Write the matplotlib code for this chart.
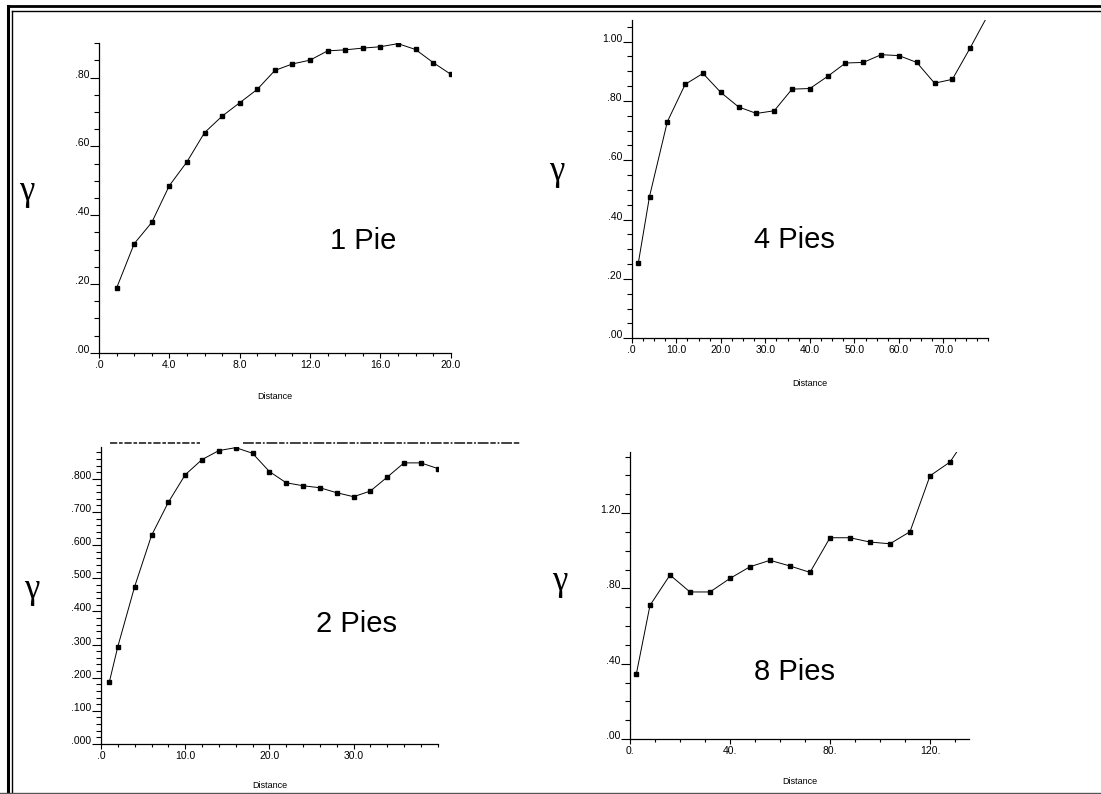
"""
Variogram panels: gamma vs distance for 1, 2, 4 and 8 pies
"""
import numpy as np
import matplotlib
matplotlib.use('Agg')
import matplotlib.pyplot as plt
from matplotlib.lines import Line2D
from matplotlib.ticker import MultipleLocator, FixedLocator

matplotlib.rcParams['font.family'] = 'Liberation Sans'
matplotlib.rcParams['font.size'] = 7
matplotlib.rcParams['axes.linewidth'] = 0.9

W, H = 1101, 794

# ---- data ----
dist_1 = list(range(1, 21))
gamma_1 = [0.188, 0.317, 0.379, 0.486, 0.555, 0.640, 0.688, 0.727, 0.766, 0.821,
           0.840, 0.851, 0.878, 0.881, 0.886, 0.890, 0.899, 0.882, 0.844, 0.810]

dist_4 = [1.5, 4, 8, 12, 16, 20, 24, 28, 32, 36, 40, 44, 48, 52, 56, 60, 64, 68, 72, 76, 80]
gamma_4 = [0.255, 0.478, 0.730, 0.856, 0.893, 0.829, 0.780, 0.758, 0.767, 0.840,
           0.842, 0.883, 0.928, 0.930, 0.956, 0.953, 0.930, 0.860, 0.873, 0.979, 1.09]

dist_2 = [1, 2, 4, 6, 8, 10, 12, 14, 16, 18, 20, 22, 24, 26, 28, 30, 32, 34, 36, 38, 40]
gamma_2 = [0.188, 0.294, 0.475, 0.629, 0.729, 0.812, 0.858, 0.885, 0.894, 0.877,
           0.822, 0.788, 0.779, 0.773, 0.758, 0.746, 0.763, 0.805, 0.848, 0.848, 0.831]

dist_8 = [2.5, 8, 16, 24, 32, 40, 48, 56, 64, 72, 80, 88, 96, 104, 112, 120, 128, 136]
gamma_8 = [0.343, 0.710, 0.871, 0.781, 0.781, 0.853, 0.915, 0.949, 0.919, 0.885,
           1.069, 1.069, 1.046, 1.037, 1.101, 1.398, 1.471, 1.63]

yticks_1 = [0.0, 0.2, 0.4, 0.6, 0.8]
ylabels_1 = ['.00', '.20', '.40', '.60', '.80']
xticks_1 = [0, 4, 8, 12, 16, 20]
xlabels_1 = ['.0', '4.0', '8.0', '12.0', '16.0', '20.0']

yticks_4 = [0.0, 0.2, 0.4, 0.6, 0.8, 1.0]
ylabels_4 = ['.00', '.20', '.40', '.60', '.80', '1.00']
xticks_4 = [0, 10, 20, 30, 40, 50, 60, 70]
xlabels_4 = ['.0', '10.0', '20.0', '30.0', '40.0', '50.0', '60.0', '70.0']

yticks_2 = [0.0, 0.1, 0.2, 0.3, 0.4, 0.5, 0.6, 0.7, 0.8]
ylabels_2 = ['.000', '.100', '.200', '.300', '.400', '.500', '.600', '.700', '.800']
xticks_2 = [0, 10, 20, 30]
xlabels_2 = ['.0', '10.0', '20.0', '30.0']

yticks_8 = [0.0, 0.4, 0.8, 1.2]
ylabels_8 = ['.00', '.40', '.80', '1.20']
xticks_8 = [0, 40, 80, 120]
xlabels_8 = ['0.', '40.', '80.', '120.']


def fx(px):
    return px / W


def fy(py):
    return 1 - py / H


def make_panel(fig, box, x, y, xlim, ylim, xt, xl, xminor, yt, yl, yminor,
               name, name_xy, gamma_xy, dist_xy):
    l, t, r, b = box
    ax = fig.add_axes([fx(l), fy(b), (r - l) / W, (b - t) / H])
    ax.plot(x, y, color='black', lw=0.7, marker='s', ms=2.6)
    ax.set_xlim(xlim)
    ax.set_ylim(ylim)
    ax.spines['top'].set_visible(False)
    ax.spines['right'].set_visible(False)
    ax.patch.set_alpha(0)

    ax.xaxis.set_major_locator(FixedLocator(xt))
    ax.set_xticklabels(xl)
    ax.xaxis.set_minor_locator(MultipleLocator(xminor))
    ax.yaxis.set_major_locator(FixedLocator(yt))
    ax.set_yticklabels(yl)
    ax.yaxis.set_minor_locator(MultipleLocator(yminor))

    ax.tick_params(axis='y', which='major', direction='out', length=6.5, width=0.8, pad=0.5, labelsize=7.5)
    ax.tick_params(axis='y', which='minor', direction='out', length=3.5, width=0.8)
    ax.tick_params(axis='x', which='major', direction='out', length=3.5, width=0.8, pad=1.5, labelsize=7.5)
    ax.tick_params(axis='x', which='minor', direction='out', length=2.5, width=0.8)
    for lbl in ax.get_yticklabels():
        lbl.set_va('baseline')

    fig.text(fx(name_xy[0]), fy(name_xy[1]), name, fontsize=21, ha='center', va='center')
    fig.text(fx(gamma_xy[0]), fy(gamma_xy[1]), 'γ', fontsize=25, family='Liberation Serif',
             ha='center', va='center')
    fig.text(fx(dist_xy[0]), fy(dist_xy[1]), 'Distance', fontsize=6.5, ha='center', va='center')
    return ax


fig = plt.figure(figsize=(W / 100, H / 100), dpi=100)

make_panel(fig, (99, 43.3, 450.7, 352.7), dist_1, gamma_1, (0, 20), (0, 0.9),
           xticks_1, xlabels_1, 1, yticks_1, ylabels_1, 0.05,
           '1 Pie', (363, 241), (27, 192), (275, 396))
make_panel(fig, (631.7, 20, 988, 338.3), dist_4, gamma_4, (0, 80), (0, 1.073),
           xticks_4, xlabels_4, 2.5, yticks_4, ylabels_4, 0.05,
           '4 Pies', (794, 240), (557, 172), (810, 383))
make_panel(fig, (101, 447.3, 437.7, 744), dist_2, gamma_2, (0, 40), (0, 0.895),
           xticks_2, xlabels_2, 2, yticks_2, ylabels_2, 0.02,
           '2 Pies', (357, 624), (32, 590), (270, 785))
make_panel(fig, (630, 451.7, 969, 739), dist_8, gamma_8, (0, 135.6), (0, 1.526),
           xticks_8, xlabels_8, 10, yticks_8, ylabels_8, 0.1,
           '8 Pies', (794, 672), (560, 581), (800, 781))

# page frame: double rule on top and left, thin grey rule at the bottom
fig.add_artist(Line2D([fx(7.5), fx(W)], [fy(6), fy(6)], color='black', lw=2.0))
fig.add_artist(Line2D([fx(7.5), fx(7.5)], [fy(6), fy(H)], color='black', lw=2.2))
fig.add_artist(Line2D([fx(12.2), fx(W)], [fy(11.2), fy(11.2)], color='black', lw=1.0))
fig.add_artist(Line2D([fx(12.2), fx(12.2)], [fy(11.2), fy(H)], color='black', lw=1.0))
fig.add_artist(Line2D([0, 1], [fy(792.8), fy(792.8)], color='#555555', lw=1.0))

# cut-off text row above the 2 Pies panel
fig.add_artist(Line2D([fx(110), fx(200)], [fy(443), fy(443)], color='#333333', lw=1.3,
                      linestyle=(0, (4, 1, 2, 1))))
fig.add_artist(Line2D([fx(243), fx(520)], [fy(443), fy(443)], color='#333333', lw=1.3,
                      linestyle=(0, (6, 1, 3, 1, 1, 1))))

plt.savefig('out.png', dpi=100)
plt.close()
